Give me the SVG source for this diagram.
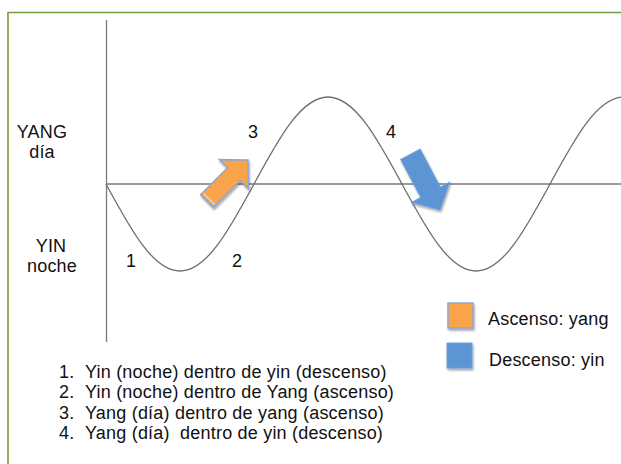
<svg xmlns="http://www.w3.org/2000/svg" width="621" height="464" viewBox="0 0 621 464">
  <defs>
    <filter id="sh" x="-30%" y="-30%" width="160%" height="160%">
      <feGaussianBlur in="SourceAlpha" stdDeviation="1.2"/>
      <feOffset dx="0.5" dy="1.5" result="b"/>
      <feComponentTransfer><feFuncA type="linear" slope="0.35"/></feComponentTransfer>
      <feMerge><feMergeNode/><feMergeNode in="SourceGraphic"/></feMerge>
    </filter>
  </defs>
  <style>
    .t { font-family: "Liberation Sans", Arial, sans-serif; font-size: 18px; letter-spacing: 0.2px; fill: #111; }
    .axis { stroke: #7a7a7a; stroke-width: 1.3; fill: none; }
    .wave { stroke: #6e6e6e; stroke-width: 1.3; fill: none; }
    .orange { fill: #f9a44b; stroke: #8fa6cf; stroke-width: 1.5; }
    .blue { fill: #5d94d4; stroke: #6d9ed8; stroke-width: 1; }
  </style>
  <rect width="621" height="464" fill="#fff"/>
  <path d="M8,464 V12.5 H621" fill="none" stroke="#789a3d" stroke-width="1.6"/>

  <g id="axes">
    <line class="axis" x1="106.5" y1="20" x2="106.5" y2="342" stroke-width="1.8"/>
    <line class="axis" x1="106" y1="184" x2="621" y2="184"/>
  </g>

  <g id="wave">
    <path class="wave" d="M106,184 C130.7,229.7 153.3,271 180,271 C206.7,271 229.3,229.7 254,184 C278.7,138.3 301.3,97 328,97 C354.7,97 377.3,138.3 402,184 C426.7,229.7 449.3,271 476,271 C502.7,271 525.3,229.7 550,184 C574.7,138.3 597.3,97 624,97"/>
  </g>

  <g id="labels-axis">
    <text class="t" x="42" y="137.5" text-anchor="middle">YANG</text>
    <text class="t" x="42" y="157.5" text-anchor="middle">día</text>
    <text class="t" x="51" y="251.5" text-anchor="middle">YIN</text>
    <text class="t" x="52" y="271.5" text-anchor="middle">noche</text>
  </g>

  <g id="numbers">
    <text class="t" x="126" y="266.5">1</text>
    <text class="t" x="232" y="266.5">2</text>
    <text class="t" x="248" y="138">3</text>
    <text class="t" x="386" y="138">4</text>
  </g>

  <g id="arrow-ascenso" filter="url(#sh)">
    <polygon class="orange" transform="translate(248,160) rotate(-45)" points="0,0 -20,-20.5 -20,-9 -58,-9 -58,9 -20,9 -20,20.5"/>
    <line transform="translate(248,160) rotate(-45)" x1="-55" y1="-8" x2="-55" y2="8" stroke="#dfe6f2" stroke-width="1"/>
  </g>

  <g id="arrow-descenso" filter="url(#sh)">
    <polygon class="blue" transform="translate(440,210) rotate(62)" points="0,0 -20,-21.5 -20,-11 -63,-11 -63,11 -20,11 -20,21.5"/>
  </g>

  <g id="legend">
    <g id="legend-ascenso">
      <rect x="448" y="303" width="25" height="25" class="orange" filter="url(#sh)"/>
      <text class="t" x="488" y="325">Ascenso: yang</text>
    </g>
    <g id="legend-descenso">
      <rect x="447" y="343" width="25" height="25" class="blue" filter="url(#sh)"/>
      <text class="t" x="489" y="366">Descenso: yin</text>
    </g>
  </g>

  <g id="list">
    <text class="t" x="59" y="378">1.</text>
    <text class="t" x="85" y="378">Yin (noche) dentro de yin (descenso)</text>
    <text class="t" x="59" y="398">2.</text>
    <text class="t" x="85" y="398">Yin (noche) dentro de Yang (ascenso)</text>
    <text class="t" x="59" y="419">3.</text>
    <text class="t" x="85" y="419">Yang (día) dentro de yang (ascenso)</text>
    <text class="t" x="59" y="439">4.</text>
    <text class="t" x="85" y="439" xml:space="preserve">Yang (día)  dentro de yin (descenso)</text>
  </g>
</svg>
